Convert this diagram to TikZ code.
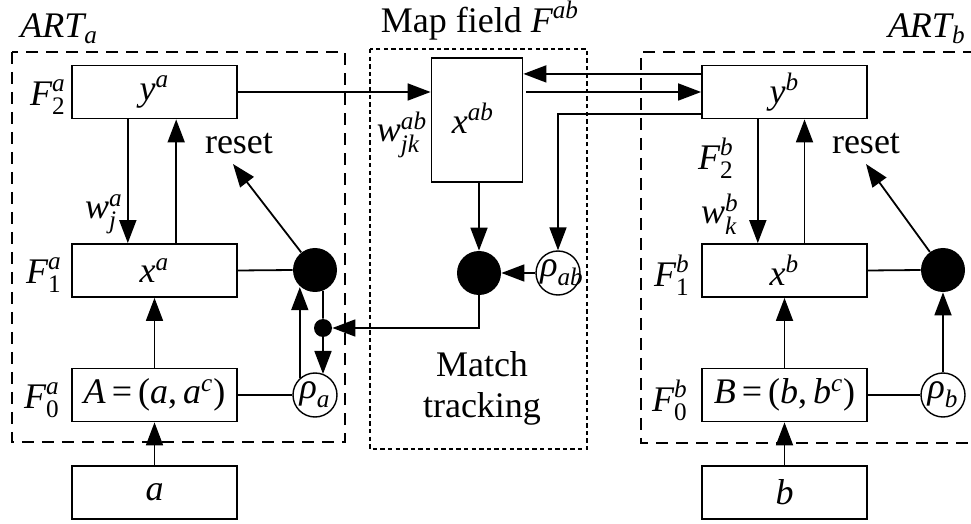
\documentclass[tikz,border=0pt]{standalone}
\usepackage{amsmath}
\usepackage{fontspec}
\setmainfont{Liberation Serif}
\usetikzlibrary{calc,arrows.meta}
\newcommand{\mi}[1]{\textit{#1}}
\begin{document}
\begin{tikzpicture}[x=0.5pt,y=-0.5pt,
 every node/.style={font=\fontsize{18}{21}\selectfont, inner sep=0pt},
 box/.style={draw, line width=0.9pt, minimum width=82.5pt, minimum height=26.5pt},
 arr/.style={line width=0.9pt, -{Triangle[length=11.5pt,width=8.5pt]}},
 ln/.style={line width=0.9pt},
 dot/.style={circle, fill, minimum size=22pt},
 smalldot/.style={circle, fill, minimum size=9pt},
 rho/.style={circle, draw, line width=0.7pt, minimum size=22pt},
 bigdash/.style={line width=0.9pt, dash pattern=on 6pt off 4pt},
 smalldash/.style={line width=0.7pt, dash pattern=on 2.2pt off 1.6pt}]
\useasboundingbox (0,0) rectangle (971,524);

% dashed frames
\draw[bigdash] (12,52) rectangle (345,442);
\draw[smalldash] (370,49) rectangle (587,449);
\draw[bigdash] (975,52) -- (641,52) -- (641,443) -- (975,443);

% titles
\node[anchor=base west] (arta) at (20,38) {$\mi{ART}_{\mi{a}}$};
\node[anchor=base east] (artb) at (966,38) {$\mi{ART}_{\mi{b}}$};
\node[anchor=base] (mapf) at (480,33) {Map field $\mi{F}^{\mi{ab}}$};

% ART_a boxes
\node[box] (ya) at (154.5,92) {$\mi{y}^{\mi{a}}$};
\node[box] (xa) at (154.5,270.5) {$\mi{x}^{\mi{a}}$};
\node[box] (A) at (154.5,395) {\mi{A}\,=\,(\mi{a},\,\mi{a}$^{\mi{c}}$)};
\node[box] (a) at (154.5,492.5) {\mi{a}};
\node (f2a) at (48,97) {$\mi{F}_{\textrm{2}}^{\mi{a}}$};
\node (f1a) at (44,275) {$\mi{F}_{\textrm{1}}^{\mi{a}}$};
\node (f0a) at (42,400) {$\mi{F}_{\textrm{0}}^{\mi{a}}$};
\node (wa) at (104,214) {$\mi{w}_{\mi{j}}^{\mi{a}}$};
\node (reseta) at (239,144) {reset};
\node[dot] (biga) at (315,270) {};
\node[smalldot] (sma) at (323,328) {};
\node[rho] (rhoa) at (315,395) {};
\node at (rhoa) {$\mi{ρ}_{\mi{a}}$};
\coordinate (ra) at (233,164);

% Map field
\node[draw, line width=0.9pt, minimum width=45.5pt, minimum height=62pt] (xab) at (477,120) {};
\node at (473,118) {$\mi{x}^{\mi{ab}}$};
\node (wab) at (402,135) {$\mi{w}_{\mi{jk}}^{\mi{ab}}$};
\node[dot] (mt) at (479,273) {};
\node[rho] (rhoab) at (558,273) {};
\node at ([xshift=2pt]rhoab) {$\mi{ρ}_{\mi{ab}}$};
\node (match) at (482,364) {Match};
\node (track) at (482,409) {tracking};

% ART_b boxes
\node[box] (yb) at (784.5,92) {$\mi{y}^{\mi{b}}$};
\node[box] (xb) at (784.5,270.5) {$\mi{x}^{\mi{b}}$};
\node[box] (B) at (784.5,395) {\mi{B}\,=\,(\mi{b},\,\mi{b}$^{\mi{c}}$)};
\node[box] (b) at (784.5,492.5) {\mi{b}};
\node (f2b) at (716,158) {$\mi{F}_{\textrm{2}}^{\mi{b}}$};
\node (f1b) at (672,275) {$\mi{F}_{\textrm{1}}^{\mi{b}}$};
\node (f0b) at (670,400) {$\mi{F}_{\textrm{0}}^{\mi{b}}$};
\node (wb) at (720,214) {$\mi{w}_{\mi{k}}^{\mi{b}}$};
\node (resetb) at (866,144) {reset};
\node[dot] (bigb) at (943,270) {};
\node[rho] (rhob) at (943,395) {};
\node at (rhob) {$\mi{ρ}_{\mi{b}}$};
\coordinate (rb) at (866,164);

% ART_a connectors
\draw[arr] ($(ya.south west)!0.34!(ya.south east)$) -- ($(xa.north west)!0.34!(xa.north east)$);
\draw[arr] ($(xa.north west)!0.63!(xa.north east)$) -- ($(ya.south west)!0.63!(ya.south east)$);
\draw[arr] (A.north) -- (xa.south);
\draw[arr] (a.north) -- (A.south);
\draw[ln] (xa.east) -- (biga.west);
\draw[ln] (A.east) -- (rhoa.west);
\draw[arr] (rhoa.132) -- (rhoa.132 |- biga.230);
\draw[ln] (biga.291) -- (sma.north);
\draw[arr] (sma.south) -- (sma.south |- rhoa.68);
\draw[arr] (biga.128) -- (ra);

% Map field connectors
\draw[arr] (ya.east) -- (ya.east -| xab.west);
\coordinate (p1) at ($(yb.north west)!0.17!(yb.south west)$);
\coordinate (p3) at ($(yb.north west)!0.9!(yb.south west)$);
\draw[arr] (p1) -- (p1 -| xab.east);
\draw[arr] ([xshift=1.5pt]xab.east |- yb.west) -- (yb.west);
\draw[arr] (p3) -| (rhoab.north);
\draw[arr] (xab.south -| mt) -- (mt.north);
\draw[arr] (rhoab.west) -- (mt.east);
\draw[arr] (mt.south) |- (sma.east);

% ART_b connectors
\draw[arr] ($(yb.south west)!0.34!(yb.south east)$) -- ($(xb.north west)!0.34!(xb.north east)$);
\draw[arr] ($(xb.north west)!0.62!(xb.north east)$) -- ($(yb.south west)!0.62!(yb.south east)$);
\draw[arr] (B.north) -- (xb.south);
\draw[arr] (b.north) -- (B.south);
\draw[ln] (xb.east) -- (bigb.west);
\draw[ln] (B.east) -- (rhob.west);
\draw[arr] (rhob.north) -- (bigb.south);
\draw[arr] (bigb.126) -- (rb);
\end{tikzpicture}
\end{document}
